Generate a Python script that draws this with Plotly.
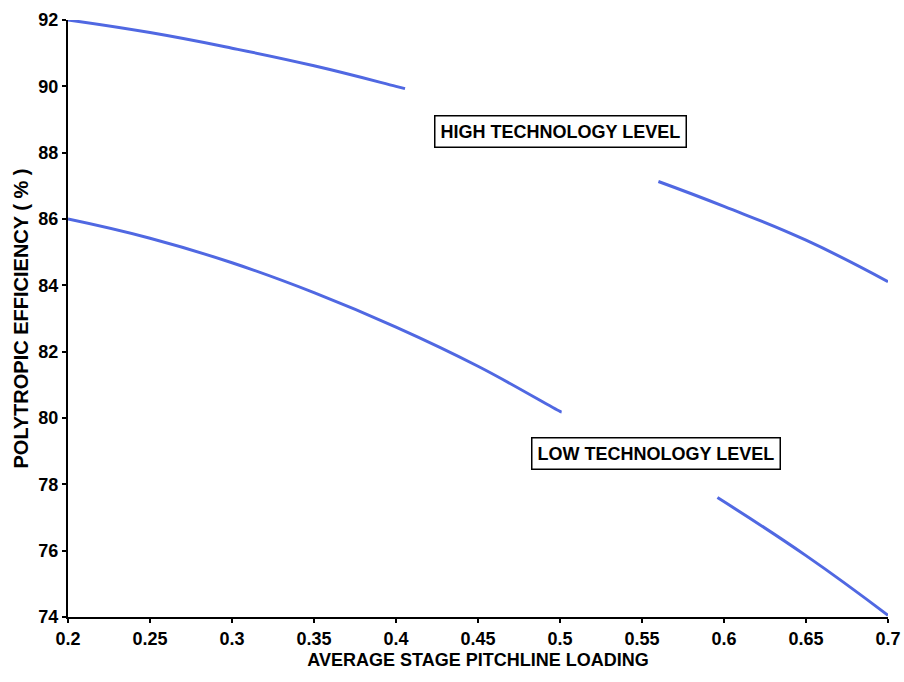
import plotly.graph_objects as go

# High technology level curves
high_a_x = [0.2, 0.25, 0.3, 0.35, 0.4, 0.4055]
high_a_y = [92.0, 91.62, 91.15, 90.62, 90.0, 89.93]
high_b_x = [0.56, 0.6, 0.65, 0.7]
high_b_y = [87.13, 86.38, 85.36, 84.11]

# Low technology level curves
low_a_x = [0.2, 0.25, 0.3, 0.35, 0.4, 0.45, 0.5, 0.501]
low_a_y = [86.0, 85.42, 84.68, 83.78, 82.74, 81.56, 80.2, 80.18]
low_b_x = [0.596, 0.65, 0.7]
low_b_y = [77.6, 75.85, 74.05]

x_ticks = [0.2, 0.25, 0.3, 0.35, 0.4, 0.45, 0.5, 0.55, 0.6, 0.65, 0.7]
x_tick_labels = ["0.2", "0.25", "0.3", "0.35", "0.4", "0.45", "0.5", "0.55", "0.6", "0.65", "0.7"]
y_ticks = [74, 76, 78, 80, 82, 84, 86, 88, 90, 92]

line_color = "#5068e2"
fig = go.Figure()
for xs, ys in [(high_a_x, high_a_y), (high_b_x, high_b_y), (low_a_x, low_a_y), (low_b_x, low_b_y)]:
    fig.add_trace(go.Scatter(x=xs, y=ys, mode="lines",
                             line=dict(color=line_color, width=3, shape="spline", smoothing=1.3),
                             showlegend=False, hoverinfo="skip"))

font_bold = "Liberation Sans"
fig.update_layout(
    width=904, height=682,
    margin=dict(l=68, r=16, t=20, b=65, autoexpand=False),
    paper_bgcolor="white", plot_bgcolor="white",
    font=dict(family=font_bold, color="black", size=18),
    xaxis=dict(range=[0.2, 0.7], tickvals=x_ticks, ticktext=["<b>%s</b>" % t for t in x_tick_labels],
               showgrid=False, zeroline=False, showline=True, linecolor="black", linewidth=2,
               ticks="outside", ticklen=4, tickwidth=2, tickcolor="black",
               tickfont=dict(size=18, family=font_bold),
               title=dict(text="<b>AVERAGE STAGE PITCHLINE LOADING</b>", font=dict(size=18), standoff=6)),
    yaxis=dict(range=[74, 92], tickvals=y_ticks, ticktext=["<b>%d</b>" % t for t in y_ticks],
               showgrid=False, zeroline=False, showline=True, linecolor="black", linewidth=2,
               ticks="outside", ticklen=4, tickwidth=2, tickcolor="black",
               tickfont=dict(size=18, family=font_bold),
               title=dict(text="<b>POLYTROPIC EFFICIENCY ( % )</b>", font=dict(size=20), standoff=4)),
)

fig.add_annotation(x=0.5, y=88.65, xref="x", yref="y", text="<b>HIGH TECHNOLOGY LEVEL</b>",
                   showarrow=False, bordercolor="black", borderwidth=1.5, borderpad=5,
                   bgcolor="white", font=dict(size=18, family=font_bold))
fig.add_annotation(x=0.5585, y=78.92, xref="x", yref="y", text="<b>LOW TECHNOLOGY LEVEL</b>",
                   showarrow=False, bordercolor="black", borderwidth=1.5, borderpad=5,
                   bgcolor="white", font=dict(size=18, family=font_bold))

fig.write_html("out.html")
